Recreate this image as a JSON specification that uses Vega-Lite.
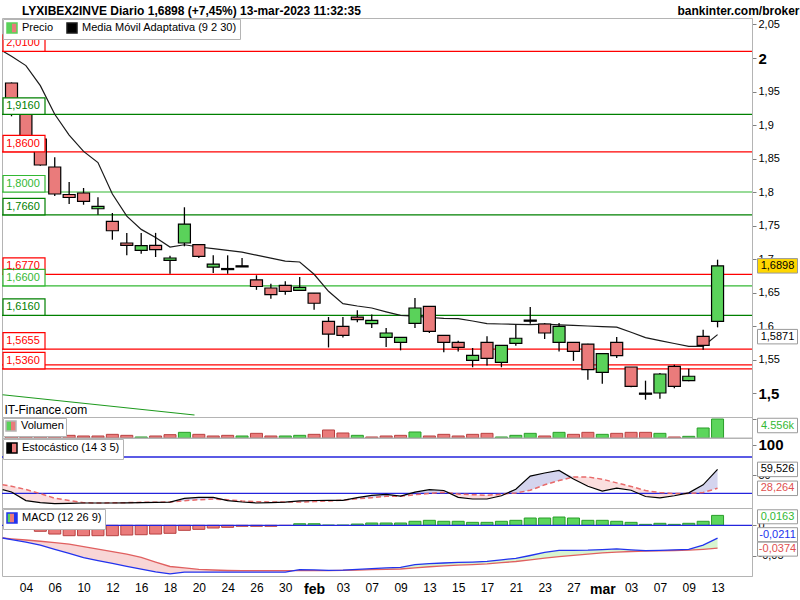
{
  "$schema": "https://vega.github.io/schema/vega-lite/v6.json",
  "padding": {"top": 4, "left": 0, "right": 0, "bottom": 0},
  "autosize": {"type": "pad"},
  "background": "#ffffff",
  "title": {"text": "LYXIBEX2INVE Diario 1,6898 (+7,45%) 13-mar-2023 11:32:35", "anchor": "start", "frame": "bounds", "fontSize": 12, "fontWeight": "bold", "font": "Liberation Sans", "color": "#000000", "dx": 22, "offset": -13},
  "config": {
    "font": "Liberation Sans",
    "locale": {"number": {"decimal": ",", "thousands": ".", "grouping": [3], "currency": ["", " €"], "minus": "-"}},
    "view": {"stroke": "#b4b4b4", "strokeWidth": 1},
    "scale": {"continuousPadding": 0},
    "axis": {"grid": false, "labelFont": "Liberation Sans", "labelColor": "#000000", "labelFontSize": 11, "domainColor": "#b4b4b4", "tickColor": "#808080", "tickSize": 4, "labelPadding": 2},
    "legend": {"orient": "top-left", "offset": 1, "direction": "horizontal", "padding": 3, "symbolSize": 100, "labelFontSize": 11, "labelFont": "Liberation Sans", "labelColor": "#000000", "labelOffset": 4, "columnPadding": 10, "strokeColor": "#b4b4b4", "fillColor": "#ffffff"}
  },
  "resolve": {"scale": {"color": "independent", "fill": "independent", "stroke": "independent"}, "legend": {"color": "independent"}},
  "spacing": 0,
  "bounds": "flush",
  "datasets": {
    "dias": [
      {"i":-0.62,"ma":2.0104,"sk":26,"sd":34.2,"macd":-0.0208,"sig":-0.0208},
      {"i":0,"fecha":"2023-01-03","o":1.9627,"h":1.9635,"l":1.913,"c":1.919,"vol":960,"vup":false,"ma":2.0027,"sk":22.1,"sd":31.6,"macd":-0.0234,"sig":-0.0221,"hist":-0.001},
      {"i":1,"fecha":"2023-01-04","o":1.921,"h":1.923,"l":1.872,"c":1.876,"vol":960,"vup":false,"ma":1.9887,"sk":7.9,"sd":26.3,"macd":-0.0275,"sig":-0.0241,"hist":-0.0061},
      {"i":2,"fecha":"2023-01-05","o":1.8791,"h":1.8795,"l":1.839,"c":1.8403,"vol":960,"vup":false,"ma":1.9587,"sk":4.6,"sd":19.5,"macd":-0.0326,"sig":-0.0261,"hist":-0.0098},
      {"i":3,"fecha":"2023-01-06","o":1.8373,"h":1.852,"l":1.794,"c":1.797,"vol":960,"vup":false,"ma":1.916,"sk":2.8,"sd":11.9,"macd":-0.0393,"sig":-0.0284,"hist":-0.0143},
      {"i":4,"fecha":"2023-01-09","o":1.7963,"h":1.815,"l":1.782,"c":1.7918,"vol":640,"vup":false,"ma":1.885,"sk":3.5,"sd":8.1,"macd":-0.0461,"sig":-0.0307,"hist":-0.017},
      {"i":5,"fecha":"2023-01-10","o":1.7985,"h":1.806,"l":1.781,"c":1.786,"vol":480,"vup":false,"ma":1.8606,"sk":4,"sd":4.5,"macd":-0.053,"sig":-0.0349,"hist":-0.017},
      {"i":6,"fecha":"2023-01-11","o":1.775,"h":1.792,"l":1.766,"c":1.7787,"vol":480,"vup":false,"ma":1.844,"sk":4,"sd":4,"macd":-0.0579,"sig":-0.0389,"hist":-0.017},
      {"i":7,"fecha":"2023-01-12","o":1.7563,"h":1.7687,"l":1.7288,"c":1.7422,"vol":880,"vup":false,"ma":1.797,"sk":4,"sd":4.3,"macd":-0.0625,"sig":-0.0431,"hist":-0.017},
      {"i":8,"fecha":"2023-01-13","o":1.7239,"h":1.739,"l":1.7055,"c":1.7204,"vol":640,"vup":false,"ma":1.7639,"sk":4.3,"sd":4.6,"macd":-0.0672,"sig":-0.0472,"hist":-0.0159},
      {"i":9,"fecha":"2023-01-16","o":1.713,"h":1.739,"l":1.708,"c":1.72,"vol":240,"vup":true,"ma":1.7442,"sk":4.6,"sd":5,"macd":-0.072,"sig":-0.0526,"hist":-0.0154},
      {"i":10,"fecha":"2023-01-17","o":1.7204,"h":1.739,"l":1.703,"c":1.714,"vol":480,"vup":false,"ma":1.732,"sk":5,"sd":5.3,"macd":-0.0764,"sig":-0.0602,"hist":-0.0143},
      {"i":11,"fecha":"2023-01-18","o":1.698,"h":1.705,"l":1.678,"c":1.7015,"vol":800,"vup":false,"ma":1.7179,"sk":5.5,"sd":5.6,"macd":-0.0795,"sig":-0.0675,"hist":-0.0131},
      {"i":12,"fecha":"2023-01-19","o":1.7239,"h":1.7772,"l":1.719,"c":1.7522,"vol":1360,"vup":true,"ma":1.7213,"sk":11.6,"sd":7.8,"macd":-0.0766,"sig":-0.0698,"hist":-0.0082},
      {"i":13,"fecha":"2023-01-20","o":1.7215,"h":1.7225,"l":1.7015,"c":1.704,"vol":880,"vup":false,"ma":1.7179,"sk":13.4,"sd":9.3,"macd":-0.0766,"sig":-0.0723,"hist":-0.0066},
      {"i":14,"fecha":"2023-01-23","o":1.688,"h":1.7055,"l":1.679,"c":1.6925,"vol":480,"vup":false,"ma":1.7154,"sk":13.4,"sd":10.6,"macd":-0.0766,"sig":-0.0733,"hist":-0.0044},
      {"i":15,"fecha":"2023-01-24","o":1.6858,"h":1.7055,"l":1.678,"c":1.6842,"vol":640,"vup":false,"ma":1.7128,"sk":7.9,"sd":9.3,"macd":-0.0766,"sig":-0.0741,"hist":-0.0033},
      {"i":16,"fecha":"2023-01-25","o":1.6898,"h":1.7015,"l":1.6882,"c":1.6882,"vol":480,"vup":true,"ma":1.7103,"sk":5.6,"sd":7.3,"macd":-0.0766,"sig":-0.0744,"hist":-0.0016},
      {"i":17,"fecha":"2023-01-26","o":1.669,"h":1.6757,"l":1.654,"c":1.659,"vol":1120,"vup":false,"ma":1.7057,"sk":4,"sd":6.1,"macd":-0.0766,"sig":-0.0744,"hist":-0.0016},
      {"i":18,"fecha":"2023-01-27","o":1.6567,"h":1.663,"l":1.6408,"c":1.6468,"vol":480,"vup":false,"ma":1.7013,"sk":4.6,"sd":5.6,"macd":-0.0766,"sig":-0.0744,"hist":-0.0016},
      {"i":19,"fecha":"2023-01-30","o":1.6607,"h":1.6667,"l":1.6468,"c":1.6518,"vol":480,"vup":true,"ma":1.6969,"sk":5.5,"sd":5.6,"macd":-0.0766,"sig":-0.0744,"hist":-0.0003},
      {"i":20,"fecha":"2023-01-31","o":1.6533,"h":1.673,"l":1.6525,"c":1.6578,"vol":640,"vup":true,"ma":1.6955,"sk":7.4,"sd":5.6,"macd":-0.0725,"sig":-0.0744,"hist":0.0026},
      {"i":21,"fecha":"2023-02-01","o":1.649,"h":1.649,"l":1.6243,"c":1.634,"vol":880,"vup":false,"ma":1.6772,"sk":8.1,"sd":6.3,"macd":-0.073,"sig":-0.0744,"hist":0.0026},
      {"i":22,"fecha":"2023-02-02","o":1.607,"h":1.6134,"l":1.568,"c":1.588,"vol":1920,"vup":false,"ma":1.6518,"sk":8.4,"sd":7.3,"macd":-0.0739,"sig":-0.0744,"hist":0.0003},
      {"i":23,"fecha":"2023-02-03","o":1.5996,"h":1.6134,"l":1.583,"c":1.586,"vol":1200,"vup":false,"ma":1.6334,"sk":8.4,"sd":8.9,"macd":-0.0736,"sig":-0.0739,"hist":0.0003},
      {"i":24,"fecha":"2023-02-06","o":1.6134,"h":1.6234,"l":1.6055,"c":1.6094,"vol":640,"vup":true,"ma":1.6299,"sk":12.7,"sd":10.9,"macd":-0.0723,"sig":-0.0736,"hist":0.0021},
      {"i":25,"fecha":"2023-02-07","o":1.6035,"h":1.617,"l":1.597,"c":1.6085,"vol":240,"vup":false,"ma":1.6269,"sk":16.7,"sd":12.7,"macd":-0.071,"sig":-0.0728,"hist":0.0038},
      {"i":26,"fecha":"2023-02-08","o":1.583,"h":1.597,"l":1.5687,"c":1.5896,"vol":480,"vup":false,"ma":1.6212,"sk":18.2,"sd":15,"macd":-0.0698,"sig":-0.0721,"hist":0.0038},
      {"i":27,"fecha":"2023-02-09","o":1.5757,"h":1.583,"l":1.5637,"c":1.583,"vol":640,"vup":false,"ma":1.616,"sk":15.5,"sd":15,"macd":-0.0689,"sig":-0.0716,"hist":0.0038},
      {"i":28,"fecha":"2023-02-10","o":1.604,"h":1.6418,"l":1.597,"c":1.6269,"vol":1440,"vup":true,"ma":1.6148,"sk":21.8,"sd":17.7,"macd":-0.0644,"sig":-0.0698,"hist":0.0066},
      {"i":29,"fecha":"2023-02-13","o":1.6294,"h":1.6294,"l":1.5896,"c":1.592,"vol":480,"vup":false,"ma":1.6127,"sk":26,"sd":19.7,"macd":-0.0628,"sig":-0.0679,"hist":0.0082},
      {"i":30,"fecha":"2023-02-14","o":1.586,"h":1.586,"l":1.5607,"c":1.5757,"vol":880,"vup":false,"ma":1.6115,"sk":24.6,"sd":21.7,"macd":-0.0618,"sig":-0.0664,"hist":0.0066},
      {"i":31,"fecha":"2023-02-15","o":1.5757,"h":1.578,"l":1.562,"c":1.5682,"vol":480,"vup":false,"ma":1.6109,"sk":13.2,"sd":18.8,"macd":-0.0608,"sig":-0.0652,"hist":0.0066},
      {"i":32,"fecha":"2023-02-16","o":1.5488,"h":1.5672,"l":1.5384,"c":1.5563,"vol":880,"vup":false,"ma":1.6075,"sk":10.6,"sd":17.7,"macd":-0.0602,"sig":-0.0643,"hist":0.0049},
      {"i":33,"fecha":"2023-02-17","o":1.5757,"h":1.5846,"l":1.541,"c":1.5518,"vol":1120,"vup":false,"ma":1.6037,"sk":10.6,"sd":16.7,"macd":-0.0592,"sig":-0.0631,"hist":0.0049},
      {"i":34,"fecha":"2023-02-20","o":1.5458,"h":1.5712,"l":1.5384,"c":1.5712,"vol":240,"vup":true,"ma":1.603,"sk":16,"sd":18.5,"macd":-0.0567,"sig":-0.0613,"hist":0.0066},
      {"i":35,"fecha":"2023-02-21","o":1.5742,"h":1.602,"l":1.5706,"c":1.5817,"vol":640,"vup":true,"ma":1.6025,"sk":26.8,"sd":20.5,"macd":-0.0541,"sig":-0.0593,"hist":0.0082},
      {"i":36,"fecha":"2023-02-22","o":1.6088,"h":1.6284,"l":1.6035,"c":1.6072,"vol":1120,"vup":true,"ma":1.6022,"sk":48.4,"sd":25,"macd":-0.0495,"sig":-0.0567,"hist":0.012},
      {"i":37,"fecha":"2023-02-23","o":1.603,"h":1.604,"l":1.5806,"c":1.5896,"vol":480,"vup":false,"ma":1.6027,"sk":53.6,"sd":34,"macd":-0.0444,"sig":-0.0539,"hist":0.012},
      {"i":38,"fecha":"2023-02-24","o":1.5757,"h":1.6045,"l":1.562,"c":1.5996,"vol":1360,"vup":true,"ma":1.6018,"sk":57.7,"sd":41,"macd":-0.041,"sig":-0.0513,"hist":0.0136},
      {"i":39,"fecha":"2023-02-27","o":1.5757,"h":1.5757,"l":1.548,"c":1.5622,"vol":880,"vup":false,"ma":1.601,"sk":43.6,"sd":47.1,"macd":-0.041,"sig":-0.0492,"hist":0.012},
      {"i":40,"fecha":"2023-02-28","o":1.5731,"h":1.5735,"l":1.5199,"c":1.5348,"vol":1360,"vup":false,"ma":1.6,"sk":31.6,"sd":47.1,"macd":-0.0407,"sig":-0.0472,"hist":0.0082},
      {"i":41,"fecha":"2023-03-01","o":1.5309,"h":1.5587,"l":1.5139,"c":1.5587,"vol":880,"vup":true,"ma":1.5991,"sk":23.5,"sd":43.3,"macd":-0.0397,"sig":-0.0452,"hist":0.0082},
      {"i":42,"fecha":"2023-03-02","o":1.5757,"h":1.5836,"l":1.5522,"c":1.5557,"vol":1120,"vup":false,"ma":1.5982,"sk":28.6,"sd":37.2,"macd":-0.0385,"sig":-0.0439,"hist":0.0066},
      {"i":43,"fecha":"2023-03-03","o":1.5388,"h":1.5388,"l":1.5085,"c":1.51,"vol":1360,"vup":false,"ma":1.5906,"sk":25,"sd":31.4,"macd":-0.0402,"sig":-0.0429,"hist":0.0049},
      {"i":44,"fecha":"2023-03-06","o":1.4998,"h":1.5184,"l":1.49,"c":1.4982,"vol":1360,"vup":false,"ma":1.5827,"sk":14.7,"sd":24.5,"macd":-0.0415,"sig":-0.0423,"hist":0.0016},
      {"i":45,"fecha":"2023-03-07","o":1.5,"h":1.5299,"l":1.4915,"c":1.5284,"vol":1120,"vup":true,"ma":1.5782,"sk":12.6,"sd":21.3,"macd":-0.041,"sig":-0.0418,"hist":0.0033},
      {"i":46,"fecha":"2023-03-08","o":1.5399,"h":1.5423,"l":1.507,"c":1.51,"vol":240,"vup":false,"ma":1.5739,"sk":15.9,"sd":19.5,"macd":-0.0403,"sig":-0.0413,"hist":0.0016},
      {"i":47,"fecha":"2023-03-09","o":1.5184,"h":1.5363,"l":1.5175,"c":1.525,"vol":400,"vup":true,"ma":1.5697,"sk":20.8,"sd":19.7,"macd":-0.0395,"sig":-0.0408,"hist":0.0033},
      {"i":48,"fecha":"2023-03-10","o":1.5846,"h":1.5945,"l":1.5646,"c":1.5712,"vol":2400,"vup":true,"ma":1.5697,"sk":34,"sd":21.3,"macd":-0.0326,"sig":-0.0393,"hist":0.0066},
      {"i":49,"fecha":"2023-03-13","o":1.607,"h":1.699,"l":1.598,"c":1.6898,"vol":4556,"vup":true,"ma":1.5871,"sk":59.526,"sd":28.264,"macd":-0.0211,"sig":-0.0374,"hist":0.0163}
    ],
    "niveles": [
      {"lvl":2.01,"tipo":"R","etiqueta":true},
      {"lvl":1.916,"tipo":"S","etiqueta":true},
      {"lvl":1.86,"tipo":"R","etiqueta":true},
      {"lvl":1.8,"tipo":"P","etiqueta":true},
      {"lvl":1.766,"tipo":"S","etiqueta":true},
      {"lvl":1.677,"tipo":"R","etiqueta":true},
      {"lvl":1.66,"tipo":"P","etiqueta":true},
      {"lvl":1.616,"tipo":"S","etiqueta":true},
      {"lvl":1.5655,"tipo":"R","etiqueta":true},
      {"lvl":1.542,"tipo":"R","etiqueta":false},
      {"lvl":1.536,"tipo":"R","etiqueta":true}
    ],
    "tendencia": [
      {"i":-0.62,"p":1.4974},
      {"i":12.7,"p":1.4672}
    ],
    "niveles_esto": [
      {"n":20},
      {"n":80}
    ]
  },
  "vconcat": [
    {
      "width": 750,
      "height": 399,
      "title": {"text": "bankinter.com/broker", "anchor": "end", "frame": "bounds", "fontSize": 12, "fontWeight": "bold", "font": "Liberation Sans", "color": "#000000", "offset": 0},
      "layer": [
        {
          "data": {"name": "niveles"},
          "mark": {"type": "rule", "strokeWidth": 1.2},
          "encoding": {
            "y": {"field": "lvl", "type": "quantitative", "scale": {"domain": [1.4642, 2.0597], "nice": false, "zero": false}, "axis": {"orient": "right", "title": null, "values": [1.5, 1.55, 1.6, 1.65, 1.7, 1.75, 1.8, 1.85, 1.9, 1.95, 2, 2.05], "format": ".2~f", "labelFontSize": {"condition": {"test": "datum.value == 2 || datum.value == 1.5", "value": 15}, "value": 11}, "labelFontWeight": {"condition": {"test": "datum.value == 2 || datum.value == 1.5", "value": "bold"}, "value": "normal"}}},
            "stroke": {"field": "tipo", "type": "nominal", "scale": {"domain": ["R", "S", "P"], "range": ["#ff0000", "#008000", "#33b833"]}, "legend": null}
          }
        },
        {
          "data": {"name": "tendencia"},
          "mark": {"type": "line", "color": "#1e9a1e", "strokeWidth": 1.2, "clip": true},
          "encoding": {
            "x": {"field": "i", "type": "quantitative", "scale": {"domain": [-0.66, 51.39], "nice": false, "zero": false, "padding": 0}, "axis": {"orient": "bottom", "labels": false, "ticks": false, "domain": false, "grid": false, "title": "IT-Finance.com", "titleAnchor": "start", "titleAlign": "left", "titleBaseline": "alphabetic", "titleX": 2, "titleY": -4, "titleFontSize": 12, "titleFontWeight": "normal", "titleColor": "#000000", "titleFont": "Liberation Sans"}},
            "y": {"field": "p", "type": "quantitative", "scale": {"domain": [1.4642, 2.0597], "nice": false, "zero": false}, "axis": {"orient": "right", "title": null, "values": [1.5, 1.55, 1.6, 1.65, 1.7, 1.75, 1.8, 1.85, 1.9, 1.95, 2, 2.05], "format": ".2~f", "labelFontSize": {"condition": {"test": "datum.value == 2 || datum.value == 1.5", "value": 15}, "value": 11}, "labelFontWeight": {"condition": {"test": "datum.value == 2 || datum.value == 1.5", "value": "bold"}, "value": "normal"}}}
          }
        },
        {
          "data": {"name": "dias"},
          "mark": {"type": "line", "strokeWidth": 1.2, "clip": true},
          "encoding": {
            "x": {"field": "i", "type": "quantitative", "scale": {"domain": [-0.66, 51.39], "nice": false, "zero": false, "padding": 0}, "axis": {"orient": "bottom", "labels": false, "ticks": false, "domain": false, "grid": false, "title": "IT-Finance.com", "titleAnchor": "start", "titleAlign": "left", "titleBaseline": "alphabetic", "titleX": 2, "titleY": -4, "titleFontSize": 12, "titleFontWeight": "normal", "titleColor": "#000000", "titleFont": "Liberation Sans"}},
            "y": {"field": "ma", "type": "quantitative", "scale": {"domain": [1.4642, 2.0597], "nice": false, "zero": false}, "axis": {"orient": "right", "title": null, "values": [1.5, 1.55, 1.6, 1.65, 1.7, 1.75, 1.8, 1.85, 1.9, 1.95, 2, 2.05], "format": ".2~f", "labelFontSize": {"condition": {"test": "datum.value == 2 || datum.value == 1.5", "value": 15}, "value": 11}, "labelFontWeight": {"condition": {"test": "datum.value == 2 || datum.value == 1.5", "value": "bold"}, "value": "normal"}}},
            "color": {"datum": "Media Móvil Adaptativa (9 2 30)", "type": "nominal", "scale": {"domain": ["Precio", "Media Móvil Adaptativa (9 2 30)"], "range": ["#5ad25a", "#1a1a1a"]}, "legend": {"title": null, "symbolType": "square", "encode": {"symbols": {"update": {"fill": {"signal": "datum.value === 'Precio' ? {gradient: 'linear', stops: [{offset: 0, color: '#5ad25a'}, {offset: 0.5, color: '#5ad25a'}, {offset: 0.5, color: '#ea7b7b'}, {offset: 1, color: '#ea7b7b'}]} : '#000000'"}, "stroke": {"value": "transparent"}, "opacity": {"value": 1}}}}}}
          }
        },
        {
          "data": {"name": "dias"},
          "transform": [{"filter": "datum.i >= 0"}],
          "mark": {"type": "rule", "color": "#000000", "strokeWidth": 1.3},
          "encoding": {
            "x": {"field": "i", "type": "quantitative", "scale": {"domain": [-0.66, 51.39], "nice": false, "zero": false, "padding": 0}, "axis": {"orient": "bottom", "labels": false, "ticks": false, "domain": false, "grid": false, "title": "IT-Finance.com", "titleAnchor": "start", "titleAlign": "left", "titleBaseline": "alphabetic", "titleX": 2, "titleY": -4, "titleFontSize": 12, "titleFontWeight": "normal", "titleColor": "#000000", "titleFont": "Liberation Sans"}},
            "y": {"field": "l", "type": "quantitative", "scale": {"domain": [1.4642, 2.0597], "nice": false, "zero": false}, "axis": {"orient": "right", "title": null, "values": [1.5, 1.55, 1.6, 1.65, 1.7, 1.75, 1.8, 1.85, 1.9, 1.95, 2, 2.05], "format": ".2~f", "labelFontSize": {"condition": {"test": "datum.value == 2 || datum.value == 1.5", "value": 15}, "value": 11}, "labelFontWeight": {"condition": {"test": "datum.value == 2 || datum.value == 1.5", "value": "bold"}, "value": "normal"}}},
            "y2": {"field": "h"}
          }
        },
        {
          "data": {"name": "dias"},
          "transform": [{"filter": "datum.i >= 0"}],
          "mark": {"type": "bar", "size": 12, "stroke": "#000000", "strokeWidth": 1.2},
          "encoding": {
            "x": {"field": "i", "type": "quantitative", "scale": {"domain": [-0.66, 51.39], "nice": false, "zero": false, "padding": 0}, "axis": {"orient": "bottom", "labels": false, "ticks": false, "domain": false, "grid": false, "title": "IT-Finance.com", "titleAnchor": "start", "titleAlign": "left", "titleBaseline": "alphabetic", "titleX": 2, "titleY": -4, "titleFontSize": 12, "titleFontWeight": "normal", "titleColor": "#000000", "titleFont": "Liberation Sans"}},
            "y": {"field": "o", "type": "quantitative", "scale": {"domain": [1.4642, 2.0597], "nice": false, "zero": false}, "axis": {"orient": "right", "title": null, "values": [1.5, 1.55, 1.6, 1.65, 1.7, 1.75, 1.8, 1.85, 1.9, 1.95, 2, 2.05], "format": ".2~f", "labelFontSize": {"condition": {"test": "datum.value == 2 || datum.value == 1.5", "value": 15}, "value": 11}, "labelFontWeight": {"condition": {"test": "datum.value == 2 || datum.value == 1.5", "value": "bold"}, "value": "normal"}}},
            "y2": {"field": "c"},
            "fill": {"condition": [{"test": "abs(datum.c - datum.o) < 0.0025", "value": "#000000"}, {"test": "datum.c > datum.o", "value": "#5ad25a"}], "value": "#ea7b7b"}
          }
        },
        {
          "data": {"name": "niveles"},
          "transform": [{"filter": "datum.etiqueta"}],
          "mark": {"type": "point", "shape": "M-1,-0.393H1V0.393H-1Z", "size": 1764, "filled": true, "fill": "#ffffff", "strokeWidth": 1.2, "opacity": 1, "yOffset": -8.25},
          "encoding": {
            "x": {"datum": 0.867, "type": "quantitative", "scale": {"domain": [-0.66, 51.39], "nice": false, "zero": false, "padding": 0}, "axis": {"orient": "bottom", "labels": false, "ticks": false, "domain": false, "grid": false, "title": "IT-Finance.com", "titleAnchor": "start", "titleAlign": "left", "titleBaseline": "alphabetic", "titleX": 2, "titleY": -4, "titleFontSize": 12, "titleFontWeight": "normal", "titleColor": "#000000", "titleFont": "Liberation Sans"}},
            "y": {"field": "lvl", "type": "quantitative", "scale": {"domain": [1.4642, 2.0597], "nice": false, "zero": false}, "axis": {"orient": "right", "title": null, "values": [1.5, 1.55, 1.6, 1.65, 1.7, 1.75, 1.8, 1.85, 1.9, 1.95, 2, 2.05], "format": ".2~f", "labelFontSize": {"condition": {"test": "datum.value == 2 || datum.value == 1.5", "value": 15}, "value": 11}, "labelFontWeight": {"condition": {"test": "datum.value == 2 || datum.value == 1.5", "value": "bold"}, "value": "normal"}}},
            "stroke": {"field": "tipo", "type": "nominal", "scale": {"domain": ["R", "S", "P"], "range": ["#ff0000", "#008000", "#33b833"]}, "legend": null}
          }
        },
        {
          "data": {"name": "niveles"},
          "transform": [{"filter": "datum.etiqueta"}],
          "mark": {"type": "text", "fontSize": 11, "align": "center", "baseline": "middle", "yOffset": -8, "dx": -1},
          "encoding": {
            "x": {"datum": 0.867, "type": "quantitative", "scale": {"domain": [-0.66, 51.39], "nice": false, "zero": false, "padding": 0}, "axis": {"orient": "bottom", "labels": false, "ticks": false, "domain": false, "grid": false, "title": "IT-Finance.com", "titleAnchor": "start", "titleAlign": "left", "titleBaseline": "alphabetic", "titleX": 2, "titleY": -4, "titleFontSize": 12, "titleFontWeight": "normal", "titleColor": "#000000", "titleFont": "Liberation Sans"}},
            "y": {"field": "lvl", "type": "quantitative", "scale": {"domain": [1.4642, 2.0597], "nice": false, "zero": false}, "axis": {"orient": "right", "title": null, "values": [1.5, 1.55, 1.6, 1.65, 1.7, 1.75, 1.8, 1.85, 1.9, 1.95, 2, 2.05], "format": ".2~f", "labelFontSize": {"condition": {"test": "datum.value == 2 || datum.value == 1.5", "value": 15}, "value": 11}, "labelFontWeight": {"condition": {"test": "datum.value == 2 || datum.value == 1.5", "value": "bold"}, "value": "normal"}}},
            "text": {"field": "lvl", "type": "quantitative", "format": ".4f"},
            "fill": {"field": "tipo", "type": "nominal", "scale": {"domain": ["R", "S", "P"], "range": ["#ff0000", "#008000", "#33b833"]}, "legend": null}
          }
        },
        {
          "data": {"name": "dias"},
          "transform": [{"filter": "datum.i == 49"}],
          "mark": {"type": "point", "shape": "M-1,-0.3625H1V0.3625H-1Z", "size": 1600, "filled": true, "fill": "#ffd700", "stroke": "#9a9a9a", "strokeWidth": 1, "opacity": 1},
          "encoding": {
            "x": {"datum": 53.16, "type": "quantitative", "scale": {"domain": [-0.66, 51.39], "nice": false, "zero": false, "padding": 0}, "axis": {"orient": "bottom", "labels": false, "ticks": false, "domain": false, "grid": false, "title": "IT-Finance.com", "titleAnchor": "start", "titleAlign": "left", "titleBaseline": "alphabetic", "titleX": 2, "titleY": -4, "titleFontSize": 12, "titleFontWeight": "normal", "titleColor": "#000000", "titleFont": "Liberation Sans"}},
            "y": {"field": "c", "type": "quantitative", "scale": {"domain": [1.4642, 2.0597], "nice": false, "zero": false}, "axis": {"orient": "right", "title": null, "values": [1.5, 1.55, 1.6, 1.65, 1.7, 1.75, 1.8, 1.85, 1.9, 1.95, 2, 2.05], "format": ".2~f", "labelFontSize": {"condition": {"test": "datum.value == 2 || datum.value == 1.5", "value": 15}, "value": 11}, "labelFontWeight": {"condition": {"test": "datum.value == 2 || datum.value == 1.5", "value": "bold"}, "value": "normal"}}}
          }
        },
        {
          "data": {"name": "dias"},
          "transform": [{"filter": "datum.i == 49"}],
          "mark": {"type": "text", "fontSize": 11, "align": "center", "baseline": "middle", "color": "#000000"},
          "encoding": {
            "x": {"datum": 53.16, "type": "quantitative", "scale": {"domain": [-0.66, 51.39], "nice": false, "zero": false, "padding": 0}, "axis": {"orient": "bottom", "labels": false, "ticks": false, "domain": false, "grid": false, "title": "IT-Finance.com", "titleAnchor": "start", "titleAlign": "left", "titleBaseline": "alphabetic", "titleX": 2, "titleY": -4, "titleFontSize": 12, "titleFontWeight": "normal", "titleColor": "#000000", "titleFont": "Liberation Sans"}},
            "y": {"field": "c", "type": "quantitative", "scale": {"domain": [1.4642, 2.0597], "nice": false, "zero": false}, "axis": {"orient": "right", "title": null, "values": [1.5, 1.55, 1.6, 1.65, 1.7, 1.75, 1.8, 1.85, 1.9, 1.95, 2, 2.05], "format": ".2~f", "labelFontSize": {"condition": {"test": "datum.value == 2 || datum.value == 1.5", "value": 15}, "value": 11}, "labelFontWeight": {"condition": {"test": "datum.value == 2 || datum.value == 1.5", "value": "bold"}, "value": "normal"}}},
            "text": {"field": "c", "type": "quantitative", "format": ".4f"}
          }
        },
        {
          "data": {"name": "dias"},
          "transform": [{"filter": "datum.i == 49"}],
          "mark": {"type": "point", "shape": "M-1,-0.3625H1V0.3625H-1Z", "size": 1600, "filled": true, "fill": "#ffffff", "stroke": "#9a9a9a", "strokeWidth": 1, "opacity": 1, "yOffset": 2},
          "encoding": {
            "x": {"datum": 53.16, "type": "quantitative", "scale": {"domain": [-0.66, 51.39], "nice": false, "zero": false, "padding": 0}, "axis": {"orient": "bottom", "labels": false, "ticks": false, "domain": false, "grid": false, "title": "IT-Finance.com", "titleAnchor": "start", "titleAlign": "left", "titleBaseline": "alphabetic", "titleX": 2, "titleY": -4, "titleFontSize": 12, "titleFontWeight": "normal", "titleColor": "#000000", "titleFont": "Liberation Sans"}},
            "y": {"field": "ma", "type": "quantitative", "scale": {"domain": [1.4642, 2.0597], "nice": false, "zero": false}, "axis": {"orient": "right", "title": null, "values": [1.5, 1.55, 1.6, 1.65, 1.7, 1.75, 1.8, 1.85, 1.9, 1.95, 2, 2.05], "format": ".2~f", "labelFontSize": {"condition": {"test": "datum.value == 2 || datum.value == 1.5", "value": 15}, "value": 11}, "labelFontWeight": {"condition": {"test": "datum.value == 2 || datum.value == 1.5", "value": "bold"}, "value": "normal"}}}
          }
        },
        {
          "data": {"name": "dias"},
          "transform": [{"filter": "datum.i == 49"}],
          "mark": {"type": "text", "fontSize": 11, "align": "center", "baseline": "middle", "color": "#000000", "yOffset": 2},
          "encoding": {
            "x": {"datum": 53.16, "type": "quantitative", "scale": {"domain": [-0.66, 51.39], "nice": false, "zero": false, "padding": 0}, "axis": {"orient": "bottom", "labels": false, "ticks": false, "domain": false, "grid": false, "title": "IT-Finance.com", "titleAnchor": "start", "titleAlign": "left", "titleBaseline": "alphabetic", "titleX": 2, "titleY": -4, "titleFontSize": 12, "titleFontWeight": "normal", "titleColor": "#000000", "titleFont": "Liberation Sans"}},
            "y": {"field": "ma", "type": "quantitative", "scale": {"domain": [1.4642, 2.0597], "nice": false, "zero": false}, "axis": {"orient": "right", "title": null, "values": [1.5, 1.55, 1.6, 1.65, 1.7, 1.75, 1.8, 1.85, 1.9, 1.95, 2, 2.05], "format": ".2~f", "labelFontSize": {"condition": {"test": "datum.value == 2 || datum.value == 1.5", "value": 15}, "value": 11}, "labelFontWeight": {"condition": {"test": "datum.value == 2 || datum.value == 1.5", "value": "bold"}, "value": "normal"}}},
            "text": {"field": "ma", "type": "quantitative", "format": ".4f"}
          }
        }
      ]
    },
    {
      "width": 750,
      "height": 21,
      "layer": [
        {
          "data": {"name": "dias"},
          "transform": [{"filter": "datum.i >= 0"}],
          "mark": {"type": "bar", "size": 12, "strokeWidth": 1},
          "encoding": {
            "x": {"field": "i", "type": "quantitative", "scale": {"domain": [-0.66, 51.39], "nice": false, "zero": false, "padding": 0}, "axis": null},
            "y": {"field": "vol", "type": "quantitative", "scale": {"domain": [0, 5036], "nice": false}, "axis": {"orient": "right", "title": null, "values": [4556], "labels": false}},
            "y2": {"datum": 0},
            "fill": {"condition": {"test": "datum.vup", "value": "#5cd65c"}, "value": "#ea7b7b"},
            "stroke": {"condition": {"test": "datum.vup", "value": "#2a9d2a"}, "value": "#b84040"}
          }
        },
        {
          "data": {"name": "dias"},
          "transform": [{"filter": "datum.i == 49"}],
          "mark": {"type": "rule", "strokeWidth": 1},
          "encoding": {
            "y": {"datum": 0, "type": "quantitative", "scale": {"domain": [0, 5036], "nice": false}, "axis": {"orient": "right", "title": null, "values": [4556], "labels": false}},
            "color": {"datum": "Volumen", "type": "nominal", "scale": {"domain": ["Volumen"], "range": ["#b4b4b4"]}, "legend": {"title": null, "symbolType": "square", "padding": 2, "encode": {"symbols": {"update": {"fill": {"signal": "{gradient: 'linear', stops: [{offset: 0, color: '#5ad25a'}, {offset: 0.5, color: '#5ad25a'}, {offset: 0.5, color: '#ea7b7b'}, {offset: 1, color: '#ea7b7b'}]}"}, "stroke": {"value": "transparent"}, "opacity": {"value": 1}}}}}}
          }
        },
        {
          "data": {"name": "dias"},
          "transform": [{"filter": "datum.i == 49"}],
          "mark": {"type": "point", "shape": "M-1,-0.3625H1V0.3625H-1Z", "size": 1600, "filled": true, "fill": "#ffffff", "stroke": "#9a9a9a", "strokeWidth": 1, "opacity": 1, "yOffset": 6.5},
          "encoding": {
            "x": {"datum": 53.16, "type": "quantitative", "scale": {"domain": [-0.66, 51.39], "nice": false, "zero": false, "padding": 0}, "axis": null},
            "y": {"field": "vol", "type": "quantitative", "scale": {"domain": [0, 5036], "nice": false}, "axis": {"orient": "right", "title": null, "values": [4556], "labels": false}}
          }
        },
        {
          "data": {"name": "dias"},
          "transform": [{"filter": "datum.i == 49"}, {"calculate": "replace(format(datum.vol / 1000, '.3f'), ',', '.') + 'k'", "as": "etiqueta"}],
          "mark": {"type": "text", "fontSize": 11, "align": "center", "baseline": "middle", "color": "#33b833", "yOffset": 6.5},
          "encoding": {
            "x": {"datum": 53.16, "type": "quantitative", "scale": {"domain": [-0.66, 51.39], "nice": false, "zero": false, "padding": 0}, "axis": null},
            "y": {"field": "vol", "type": "quantitative", "scale": {"domain": [0, 5036], "nice": false}, "axis": {"orient": "right", "title": null, "values": [4556], "labels": false}},
            "text": {"field": "etiqueta", "type": "nominal"}
          }
        }
      ]
    },
    {
      "width": 750,
      "height": 70,
      "layer": [
        {
          "data": {"name": "dias"},
          "transform": [{"fold": ["sk", "sd"], "as": ["serie", "valor"]}, {"joinaggregate": [{"op": "max", "field": "valor", "as": "tope"}], "groupby": ["i"]}, {"filter": "datum.serie == 'sk'"}],
          "mark": {"type": "area", "color": "#fbdede", "opacity": 1, "clip": true},
          "encoding": {
            "x": {"field": "i", "type": "quantitative", "scale": {"domain": [-0.66, 51.39], "nice": false, "zero": false, "padding": 0}, "axis": null},
            "y": {"field": "tope", "type": "quantitative", "scale": {"domain": [-4.3, 111.4], "nice": false, "zero": false}, "axis": {"orient": "right", "title": null, "values": [50, 100], "labelFontSize": {"condition": {"test": "datum.value == 100", "value": 15}, "value": 11}, "labelFontWeight": {"condition": {"test": "datum.value == 100", "value": "bold"}, "value": "normal"}}},
            "y2": {"field": "valor"}
          }
        },
        {
          "data": {"name": "dias"},
          "transform": [{"fold": ["sk", "sd"], "as": ["serie", "valor"]}, {"joinaggregate": [{"op": "max", "field": "valor", "as": "tope"}], "groupby": ["i"]}, {"filter": "datum.serie == 'sd'"}],
          "mark": {"type": "area", "color": "#d4d4ee", "opacity": 1, "clip": true},
          "encoding": {
            "x": {"field": "i", "type": "quantitative", "scale": {"domain": [-0.66, 51.39], "nice": false, "zero": false, "padding": 0}, "axis": null},
            "y": {"field": "tope", "type": "quantitative", "scale": {"domain": [-4.3, 111.4], "nice": false, "zero": false}, "axis": {"orient": "right", "title": null, "values": [50, 100], "labelFontSize": {"condition": {"test": "datum.value == 100", "value": 15}, "value": 11}, "labelFontWeight": {"condition": {"test": "datum.value == 100", "value": "bold"}, "value": "normal"}}},
            "y2": {"field": "valor"}
          }
        },
        {
          "data": {"name": "niveles_esto"},
          "mark": {"type": "rule", "color": "#2424dd", "strokeWidth": 1.3},
          "encoding": {
            "y": {"field": "n", "type": "quantitative", "scale": {"domain": [-4.3, 111.4], "nice": false, "zero": false}, "axis": {"orient": "right", "title": null, "values": [50, 100], "labelFontSize": {"condition": {"test": "datum.value == 100", "value": 15}, "value": 11}, "labelFontWeight": {"condition": {"test": "datum.value == 100", "value": "bold"}, "value": "normal"}}}
          }
        },
        {
          "data": {"name": "dias"},
          "mark": {"type": "line", "color": "#e86a6a", "strokeWidth": 1.5, "strokeDash": [5, 3], "clip": true},
          "encoding": {
            "x": {"field": "i", "type": "quantitative", "scale": {"domain": [-0.66, 51.39], "nice": false, "zero": false, "padding": 0}, "axis": null},
            "y": {"field": "sd", "type": "quantitative", "scale": {"domain": [-4.3, 111.4], "nice": false, "zero": false}, "axis": {"orient": "right", "title": null, "values": [50, 100], "labelFontSize": {"condition": {"test": "datum.value == 100", "value": 15}, "value": 11}, "labelFontWeight": {"condition": {"test": "datum.value == 100", "value": "bold"}, "value": "normal"}}}
          }
        },
        {
          "data": {"name": "dias"},
          "mark": {"type": "line", "strokeWidth": 1.2, "clip": true},
          "encoding": {
            "x": {"field": "i", "type": "quantitative", "scale": {"domain": [-0.66, 51.39], "nice": false, "zero": false, "padding": 0}, "axis": null},
            "y": {"field": "sk", "type": "quantitative", "scale": {"domain": [-4.3, 111.4], "nice": false, "zero": false}, "axis": {"orient": "right", "title": null, "values": [50, 100], "labelFontSize": {"condition": {"test": "datum.value == 100", "value": 15}, "value": 11}, "labelFontWeight": {"condition": {"test": "datum.value == 100", "value": "bold"}, "value": "normal"}}},
            "color": {"datum": "Estocástico (14 3 5)", "type": "nominal", "scale": {"domain": ["Estocástico (14 3 5)"], "range": ["#000000"]}, "legend": {"title": null, "symbolType": "square", "encode": {"symbols": {"update": {"fill": {"signal": "{gradient: 'linear', stops: [{offset: 0, color: '#000000'}, {offset: 0.5, color: '#000000'}, {offset: 0.5, color: '#ea7b7b'}, {offset: 1, color: '#ea7b7b'}]}"}, "stroke": {"value": "transparent"}, "opacity": {"value": 1}}}}}}
          }
        },
        {
          "data": {"name": "dias"},
          "transform": [{"filter": "datum.i == 49"}, {"fold": ["sk", "sd"], "as": ["serie", "valor"]}],
          "mark": {"type": "point", "shape": "M-1,-0.3625H1V0.3625H-1Z", "size": 1600, "filled": true, "fill": "#ffffff", "stroke": "#9a9a9a", "strokeWidth": 1, "opacity": 1},
          "encoding": {
            "x": {"datum": 53.16, "type": "quantitative", "scale": {"domain": [-0.66, 51.39], "nice": false, "zero": false, "padding": 0}, "axis": null},
            "y": {"field": "valor", "type": "quantitative", "scale": {"domain": [-4.3, 111.4], "nice": false, "zero": false}, "axis": {"orient": "right", "title": null, "values": [50, 100], "labelFontSize": {"condition": {"test": "datum.value == 100", "value": 15}, "value": 11}, "labelFontWeight": {"condition": {"test": "datum.value == 100", "value": "bold"}, "value": "normal"}}}
          }
        },
        {
          "data": {"name": "dias"},
          "transform": [{"filter": "datum.i == 49"}, {"fold": ["sk", "sd"], "as": ["serie", "valor"]}],
          "mark": {"type": "text", "fontSize": 11, "align": "center", "baseline": "middle"},
          "encoding": {
            "x": {"datum": 53.16, "type": "quantitative", "scale": {"domain": [-0.66, 51.39], "nice": false, "zero": false, "padding": 0}, "axis": null},
            "y": {"field": "valor", "type": "quantitative", "scale": {"domain": [-4.3, 111.4], "nice": false, "zero": false}, "axis": {"orient": "right", "title": null, "values": [50, 100], "labelFontSize": {"condition": {"test": "datum.value == 100", "value": 15}, "value": 11}, "labelFontWeight": {"condition": {"test": "datum.value == 100", "value": "bold"}, "value": "normal"}}},
            "text": {"field": "valor", "type": "quantitative", "format": ".3f"},
            "fill": {"field": "serie", "type": "nominal", "scale": {"domain": ["sk", "sd"], "range": ["#000000", "#e05050"]}, "legend": null}
          }
        }
      ]
    },
    {
      "width": 750,
      "height": 68,
      "layer": [
        {
          "data": {"name": "dias"},
          "transform": [{"filter": "datum.i >= 0"}],
          "mark": {"type": "bar", "size": 12, "strokeWidth": 1},
          "encoding": {
            "x": {"field": "i", "type": "quantitative", "scale": {"domain": [-0.66, 51.39], "nice": false, "zero": false, "padding": 0}, "axis": {"orient": "bottom", "title": null, "values": [1, 3, 5, 7, 9, 11, 13, 15, 17, 19, 21, 23, 25, 27, 29, 31, 33, 35, 37, 39, 41, 43, 45, 47, 49], "labelExpr": "['04','06','10','12','16','18','20','24','26','30','feb','03','07','09','13','15','17','21','23','27','mar','03','07','09','13'][floor(datum.value / 2)]", "ticks": false, "domain": false, "labelPadding": 6, "labelOverlap": false, "labelFlush": false, "labelFontSize": {"condition": {"test": "datum.value == 21 || datum.value == 41", "value": 14}, "value": 12}, "labelFontWeight": {"condition": {"test": "datum.value == 21 || datum.value == 41", "value": "bold"}, "value": "normal"}}},
            "y": {"field": "hist", "type": "quantitative", "scale": {"domain": [-0.0831, 0.0284], "nice": false, "zero": false}, "axis": {"orient": "right", "title": null, "values": [-0.05, 0], "format": "~g"}},
            "y2": {"datum": 0},
            "fill": {"condition": {"test": "datum.hist >= 0", "value": "#5cd65c"}, "value": "#ea7b7b"},
            "stroke": {"condition": {"test": "datum.hist >= 0", "value": "#2a9d2a"}, "value": "#b84040"}
          }
        },
        {
          "data": {"name": "dias"},
          "transform": [{"filter": "datum.i == 49"}],
          "mark": {"type": "rule", "color": "#2424dd", "strokeWidth": 1.3},
          "encoding": {
            "y": {"datum": 0, "type": "quantitative", "scale": {"domain": [-0.0831, 0.0284], "nice": false, "zero": false}, "axis": {"orient": "right", "title": null, "values": [-0.05, 0], "format": "~g"}}
          }
        },
        {
          "data": {"name": "dias"},
          "transform": [{"fold": ["macd", "sig"], "as": ["serie", "valor"]}, {"joinaggregate": [{"op": "max", "field": "valor", "as": "tope"}], "groupby": ["i"]}, {"filter": "datum.serie == 'macd'"}],
          "mark": {"type": "area", "color": "#f8d6d6", "opacity": 1, "clip": true},
          "encoding": {
            "x": {"field": "i", "type": "quantitative", "scale": {"domain": [-0.66, 51.39], "nice": false, "zero": false, "padding": 0}, "axis": {"orient": "bottom", "title": null, "values": [1, 3, 5, 7, 9, 11, 13, 15, 17, 19, 21, 23, 25, 27, 29, 31, 33, 35, 37, 39, 41, 43, 45, 47, 49], "labelExpr": "['04','06','10','12','16','18','20','24','26','30','feb','03','07','09','13','15','17','21','23','27','mar','03','07','09','13'][floor(datum.value / 2)]", "ticks": false, "domain": false, "labelPadding": 6, "labelOverlap": false, "labelFlush": false, "labelFontSize": {"condition": {"test": "datum.value == 21 || datum.value == 41", "value": 14}, "value": 12}, "labelFontWeight": {"condition": {"test": "datum.value == 21 || datum.value == 41", "value": "bold"}, "value": "normal"}}},
            "y": {"field": "tope", "type": "quantitative", "scale": {"domain": [-0.0831, 0.0284], "nice": false, "zero": false}, "axis": {"orient": "right", "title": null, "values": [-0.05, 0], "format": "~g"}},
            "y2": {"field": "valor"}
          }
        },
        {
          "data": {"name": "dias"},
          "transform": [{"fold": ["macd", "sig"], "as": ["serie", "valor"]}, {"joinaggregate": [{"op": "max", "field": "valor", "as": "tope"}], "groupby": ["i"]}, {"filter": "datum.serie == 'sig'"}],
          "mark": {"type": "area", "color": "#d8f5d0", "opacity": 1, "clip": true},
          "encoding": {
            "x": {"field": "i", "type": "quantitative", "scale": {"domain": [-0.66, 51.39], "nice": false, "zero": false, "padding": 0}, "axis": {"orient": "bottom", "title": null, "values": [1, 3, 5, 7, 9, 11, 13, 15, 17, 19, 21, 23, 25, 27, 29, 31, 33, 35, 37, 39, 41, 43, 45, 47, 49], "labelExpr": "['04','06','10','12','16','18','20','24','26','30','feb','03','07','09','13','15','17','21','23','27','mar','03','07','09','13'][floor(datum.value / 2)]", "ticks": false, "domain": false, "labelPadding": 6, "labelOverlap": false, "labelFlush": false, "labelFontSize": {"condition": {"test": "datum.value == 21 || datum.value == 41", "value": 14}, "value": 12}, "labelFontWeight": {"condition": {"test": "datum.value == 21 || datum.value == 41", "value": "bold"}, "value": "normal"}}},
            "y": {"field": "tope", "type": "quantitative", "scale": {"domain": [-0.0831, 0.0284], "nice": false, "zero": false}, "axis": {"orient": "right", "title": null, "values": [-0.05, 0], "format": "~g"}},
            "y2": {"field": "valor"}
          }
        },
        {
          "data": {"name": "dias"},
          "mark": {"type": "line", "color": "#e06060", "strokeWidth": 1.3, "clip": true},
          "encoding": {
            "x": {"field": "i", "type": "quantitative", "scale": {"domain": [-0.66, 51.39], "nice": false, "zero": false, "padding": 0}, "axis": {"orient": "bottom", "title": null, "values": [1, 3, 5, 7, 9, 11, 13, 15, 17, 19, 21, 23, 25, 27, 29, 31, 33, 35, 37, 39, 41, 43, 45, 47, 49], "labelExpr": "['04','06','10','12','16','18','20','24','26','30','feb','03','07','09','13','15','17','21','23','27','mar','03','07','09','13'][floor(datum.value / 2)]", "ticks": false, "domain": false, "labelPadding": 6, "labelOverlap": false, "labelFlush": false, "labelFontSize": {"condition": {"test": "datum.value == 21 || datum.value == 41", "value": 14}, "value": 12}, "labelFontWeight": {"condition": {"test": "datum.value == 21 || datum.value == 41", "value": "bold"}, "value": "normal"}}},
            "y": {"field": "sig", "type": "quantitative", "scale": {"domain": [-0.0831, 0.0284], "nice": false, "zero": false}, "axis": {"orient": "right", "title": null, "values": [-0.05, 0], "format": "~g"}}
          }
        },
        {
          "data": {"name": "dias"},
          "mark": {"type": "line", "strokeWidth": 1.3, "clip": true},
          "encoding": {
            "x": {"field": "i", "type": "quantitative", "scale": {"domain": [-0.66, 51.39], "nice": false, "zero": false, "padding": 0}, "axis": {"orient": "bottom", "title": null, "values": [1, 3, 5, 7, 9, 11, 13, 15, 17, 19, 21, 23, 25, 27, 29, 31, 33, 35, 37, 39, 41, 43, 45, 47, 49], "labelExpr": "['04','06','10','12','16','18','20','24','26','30','feb','03','07','09','13','15','17','21','23','27','mar','03','07','09','13'][floor(datum.value / 2)]", "ticks": false, "domain": false, "labelPadding": 6, "labelOverlap": false, "labelFlush": false, "labelFontSize": {"condition": {"test": "datum.value == 21 || datum.value == 41", "value": 14}, "value": 12}, "labelFontWeight": {"condition": {"test": "datum.value == 21 || datum.value == 41", "value": "bold"}, "value": "normal"}}},
            "y": {"field": "macd", "type": "quantitative", "scale": {"domain": [-0.0831, 0.0284], "nice": false, "zero": false}, "axis": {"orient": "right", "title": null, "values": [-0.05, 0], "format": "~g"}},
            "color": {"datum": "MACD (12 26 9)", "type": "nominal", "scale": {"domain": ["MACD (12 26 9)"], "range": ["#2233ee"]}, "legend": {"title": null, "symbolType": "square", "encode": {"symbols": {"update": {"fill": {"signal": "{gradient: 'linear', stops: [{offset: 0, color: '#5ad25a'}, {offset: 0.34, color: '#5ad25a'}, {offset: 0.34, color: '#ea7b7b'}, {offset: 0.67, color: '#ea7b7b'}, {offset: 0.67, color: '#2233ee'}, {offset: 1, color: '#2233ee'}]}"}, "stroke": {"value": "transparent"}, "opacity": {"value": 1}}}}}}
          }
        },
        {
          "data": {"name": "dias"},
          "transform": [{"filter": "datum.i == 49"}],
          "mark": {"type": "point", "shape": "M-1,-0.35H1V0.35H-1Z", "size": 1600, "filled": true, "fill": "#ffffff", "stroke": "#9a9a9a", "strokeWidth": 1, "opacity": 1, "yOffset": 1.4},
          "encoding": {
            "x": {"datum": 53.16, "type": "quantitative", "scale": {"domain": [-0.66, 51.39], "nice": false, "zero": false, "padding": 0}, "axis": {"orient": "bottom", "title": null, "values": [1, 3, 5, 7, 9, 11, 13, 15, 17, 19, 21, 23, 25, 27, 29, 31, 33, 35, 37, 39, 41, 43, 45, 47, 49], "labelExpr": "['04','06','10','12','16','18','20','24','26','30','feb','03','07','09','13','15','17','21','23','27','mar','03','07','09','13'][floor(datum.value / 2)]", "ticks": false, "domain": false, "labelPadding": 6, "labelOverlap": false, "labelFlush": false, "labelFontSize": {"condition": {"test": "datum.value == 21 || datum.value == 41", "value": 14}, "value": 12}, "labelFontWeight": {"condition": {"test": "datum.value == 21 || datum.value == 41", "value": "bold"}, "value": "normal"}}},
            "y": {"field": "hist", "type": "quantitative", "scale": {"domain": [-0.0831, 0.0284], "nice": false, "zero": false}, "axis": {"orient": "right", "title": null, "values": [-0.05, 0], "format": "~g"}}
          }
        },
        {
          "data": {"name": "dias"},
          "transform": [{"filter": "datum.i == 49"}],
          "mark": {"type": "text", "fontSize": 11, "align": "center", "baseline": "middle", "color": "#33b833", "yOffset": 1.4},
          "encoding": {
            "x": {"datum": 53.16, "type": "quantitative", "scale": {"domain": [-0.66, 51.39], "nice": false, "zero": false, "padding": 0}, "axis": {"orient": "bottom", "title": null, "values": [1, 3, 5, 7, 9, 11, 13, 15, 17, 19, 21, 23, 25, 27, 29, 31, 33, 35, 37, 39, 41, 43, 45, 47, 49], "labelExpr": "['04','06','10','12','16','18','20','24','26','30','feb','03','07','09','13','15','17','21','23','27','mar','03','07','09','13'][floor(datum.value / 2)]", "ticks": false, "domain": false, "labelPadding": 6, "labelOverlap": false, "labelFlush": false, "labelFontSize": {"condition": {"test": "datum.value == 21 || datum.value == 41", "value": 14}, "value": 12}, "labelFontWeight": {"condition": {"test": "datum.value == 21 || datum.value == 41", "value": "bold"}, "value": "normal"}}},
            "y": {"field": "hist", "type": "quantitative", "scale": {"domain": [-0.0831, 0.0284], "nice": false, "zero": false}, "axis": {"orient": "right", "title": null, "values": [-0.05, 0], "format": "~g"}},
            "text": {"field": "hist", "type": "quantitative", "format": ".4f"}
          }
        },
        {
          "data": {"name": "dias"},
          "transform": [{"filter": "datum.i == 49"}],
          "mark": {"type": "point", "shape": "M-1,-0.35H1V0.35H-1Z", "size": 1600, "filled": true, "fill": "#ffffff", "stroke": "#9a9a9a", "strokeWidth": 1, "opacity": 1, "yOffset": -3.5},
          "encoding": {
            "x": {"datum": 53.16, "type": "quantitative", "scale": {"domain": [-0.66, 51.39], "nice": false, "zero": false, "padding": 0}, "axis": {"orient": "bottom", "title": null, "values": [1, 3, 5, 7, 9, 11, 13, 15, 17, 19, 21, 23, 25, 27, 29, 31, 33, 35, 37, 39, 41, 43, 45, 47, 49], "labelExpr": "['04','06','10','12','16','18','20','24','26','30','feb','03','07','09','13','15','17','21','23','27','mar','03','07','09','13'][floor(datum.value / 2)]", "ticks": false, "domain": false, "labelPadding": 6, "labelOverlap": false, "labelFlush": false, "labelFontSize": {"condition": {"test": "datum.value == 21 || datum.value == 41", "value": 14}, "value": 12}, "labelFontWeight": {"condition": {"test": "datum.value == 21 || datum.value == 41", "value": "bold"}, "value": "normal"}}},
            "y": {"field": "macd", "type": "quantitative", "scale": {"domain": [-0.0831, 0.0284], "nice": false, "zero": false}, "axis": {"orient": "right", "title": null, "values": [-0.05, 0], "format": "~g"}}
          }
        },
        {
          "data": {"name": "dias"},
          "transform": [{"filter": "datum.i == 49"}],
          "mark": {"type": "text", "fontSize": 11, "align": "center", "baseline": "middle", "color": "#2233ee", "yOffset": -3.5},
          "encoding": {
            "x": {"datum": 53.16, "type": "quantitative", "scale": {"domain": [-0.66, 51.39], "nice": false, "zero": false, "padding": 0}, "axis": {"orient": "bottom", "title": null, "values": [1, 3, 5, 7, 9, 11, 13, 15, 17, 19, 21, 23, 25, 27, 29, 31, 33, 35, 37, 39, 41, 43, 45, 47, 49], "labelExpr": "['04','06','10','12','16','18','20','24','26','30','feb','03','07','09','13','15','17','21','23','27','mar','03','07','09','13'][floor(datum.value / 2)]", "ticks": false, "domain": false, "labelPadding": 6, "labelOverlap": false, "labelFlush": false, "labelFontSize": {"condition": {"test": "datum.value == 21 || datum.value == 41", "value": 14}, "value": 12}, "labelFontWeight": {"condition": {"test": "datum.value == 21 || datum.value == 41", "value": "bold"}, "value": "normal"}}},
            "y": {"field": "macd", "type": "quantitative", "scale": {"domain": [-0.0831, 0.0284], "nice": false, "zero": false}, "axis": {"orient": "right", "title": null, "values": [-0.05, 0], "format": "~g"}},
            "text": {"field": "macd", "type": "quantitative", "format": ".4f"}
          }
        },
        {
          "data": {"name": "dias"},
          "transform": [{"filter": "datum.i == 49"}],
          "mark": {"type": "point", "shape": "M-1,-0.35H1V0.35H-1Z", "size": 1600, "filled": true, "fill": "#ffffff", "stroke": "#9a9a9a", "strokeWidth": 1, "opacity": 1, "yOffset": 1},
          "encoding": {
            "x": {"datum": 53.16, "type": "quantitative", "scale": {"domain": [-0.66, 51.39], "nice": false, "zero": false, "padding": 0}, "axis": {"orient": "bottom", "title": null, "values": [1, 3, 5, 7, 9, 11, 13, 15, 17, 19, 21, 23, 25, 27, 29, 31, 33, 35, 37, 39, 41, 43, 45, 47, 49], "labelExpr": "['04','06','10','12','16','18','20','24','26','30','feb','03','07','09','13','15','17','21','23','27','mar','03','07','09','13'][floor(datum.value / 2)]", "ticks": false, "domain": false, "labelPadding": 6, "labelOverlap": false, "labelFlush": false, "labelFontSize": {"condition": {"test": "datum.value == 21 || datum.value == 41", "value": 14}, "value": 12}, "labelFontWeight": {"condition": {"test": "datum.value == 21 || datum.value == 41", "value": "bold"}, "value": "normal"}}},
            "y": {"field": "sig", "type": "quantitative", "scale": {"domain": [-0.0831, 0.0284], "nice": false, "zero": false}, "axis": {"orient": "right", "title": null, "values": [-0.05, 0], "format": "~g"}}
          }
        },
        {
          "data": {"name": "dias"},
          "transform": [{"filter": "datum.i == 49"}],
          "mark": {"type": "text", "fontSize": 11, "align": "center", "baseline": "middle", "color": "#e05050", "yOffset": 1},
          "encoding": {
            "x": {"datum": 53.16, "type": "quantitative", "scale": {"domain": [-0.66, 51.39], "nice": false, "zero": false, "padding": 0}, "axis": {"orient": "bottom", "title": null, "values": [1, 3, 5, 7, 9, 11, 13, 15, 17, 19, 21, 23, 25, 27, 29, 31, 33, 35, 37, 39, 41, 43, 45, 47, 49], "labelExpr": "['04','06','10','12','16','18','20','24','26','30','feb','03','07','09','13','15','17','21','23','27','mar','03','07','09','13'][floor(datum.value / 2)]", "ticks": false, "domain": false, "labelPadding": 6, "labelOverlap": false, "labelFlush": false, "labelFontSize": {"condition": {"test": "datum.value == 21 || datum.value == 41", "value": 14}, "value": 12}, "labelFontWeight": {"condition": {"test": "datum.value == 21 || datum.value == 41", "value": "bold"}, "value": "normal"}}},
            "y": {"field": "sig", "type": "quantitative", "scale": {"domain": [-0.0831, 0.0284], "nice": false, "zero": false}, "axis": {"orient": "right", "title": null, "values": [-0.05, 0], "format": "~g"}},
            "text": {"field": "sig", "type": "quantitative", "format": ".4f"}
          }
        }
      ]
    }
  ]
}
